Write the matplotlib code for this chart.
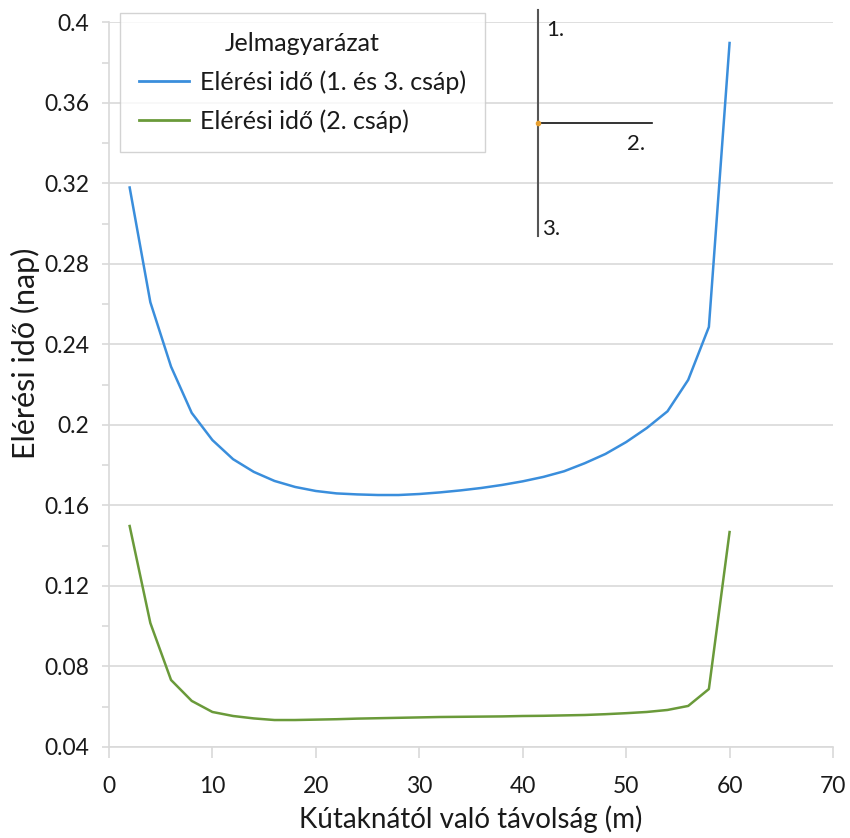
import matplotlib.pyplot as plt
from matplotlib.ticker import MultipleLocator
from matplotlib.lines import Line2D

plt.rcParams['font.family'] = ['Lato', 'DejaVu Sans']

# távolság a kutaktól (m)
tavolsag = list(range(2, 61, 2))

# elérési idő, 1. és 3. csáp (nap)
ido_1_3 = [0.318, 0.261, 0.229, 0.206, 0.1925, 0.183, 0.1767, 0.1722, 0.1692, 0.1672,
           0.166, 0.1655, 0.1652, 0.1652, 0.1657, 0.1665, 0.1675, 0.1687, 0.1702, 0.172,
           0.1742, 0.177, 0.181, 0.1856, 0.1915, 0.1985, 0.2068, 0.2224, 0.2487, 0.3898]

# elérési idő, 2. csáp (nap)
ido_2 = [0.1498, 0.1016, 0.0733, 0.0629, 0.0574, 0.0554, 0.0542, 0.0534, 0.0534, 0.0536,
         0.0538, 0.0541, 0.0543, 0.0545, 0.0547, 0.0549, 0.055, 0.0551, 0.0552, 0.0554,
         0.0555, 0.0557, 0.0559, 0.0563, 0.0568, 0.0574, 0.0584, 0.0604, 0.0688, 0.1468]

y_ticks = [0.04, 0.08, 0.12, 0.16, 0.2, 0.24, 0.28, 0.32, 0.36, 0.4]
y_labels = ['0.04', '0.08', '0.12', '0.16', '0.2', '0.24', '0.28', '0.32', '0.36', '0.4']
x_ticks = [0, 10, 20, 30, 40, 50, 60, 70]

kek = '#3a8edc'
zold = '#6a9a3a'
szurke = '#d9d9d9'
szoveg = '#1a1a1a'

fig = plt.figure(figsize=(8.5, 8.38), dpi=100)
ax = fig.add_axes([0.1282, 0.1086, 0.8518, 0.8646])

ax.plot(tavolsag, ido_1_3, color=kek, lw=1.8)
ax.plot(tavolsag, ido_2, color=zold, lw=1.8)

ax.set_xlim(0, 70)
ax.set_ylim(0.04, 0.4)
ax.set_xticks(x_ticks)
ax.set_yticks(y_ticks)
ax.set_yticklabels(y_labels)
ax.yaxis.set_minor_locator(MultipleLocator(0.02))

ax.grid(axis='y', color=szurke, lw=1.2)
ax.set_axisbelow(True)
for s in ['top', 'right']:
    ax.spines[s].set_visible(False)
for s in ['left', 'bottom']:
    ax.spines[s].set_color(szurke)
    ax.spines[s].set_linewidth(1.2)

ax.tick_params(axis='both', which='major', labelsize=16.5, color=szurke, width=1.2,
               labelcolor=szoveg)
ax.tick_params(axis='y', which='both', length=5, color=szurke, width=1.2, pad=9)
ax.tick_params(axis='x', which='major', length=8, pad=13)

ax.set_xlabel('Kútaknától való távolság (m)', fontsize=20, color=szoveg, va='top')
ax.xaxis.set_label_coords(0.5, -0.081)
ax.set_ylabel('Elérési idő (nap)', fontsize=22, color=szoveg)
ax.yaxis.set_label_coords(-0.095, 0.544)

handles = [Line2D([], [], color=kek, lw=2), Line2D([], [], color=zold, lw=2)]
leg = ax.legend(handles, ['Elérési idő (1. és 3. csáp)', 'Elérési idő (2. csáp)'],
                title='Jelmagyarázat', loc='upper left', bbox_to_anchor=(0.0152, 1.013),
                fontsize=18, title_fontsize=18, frameon=True, fancybox=False,
                handlelength=2.0, handletextpad=0.45, borderpad=0.75, labelspacing=0.62,
                borderaxespad=0)
leg.get_frame().set_edgecolor('#c8c8c8')
leg.get_frame().set_linewidth(1.0)
leg.get_title().set_color(szoveg)
for t in leg.get_texts():
    t.set_color(szoveg)

# csápok vázlata (pixelhelyek a képen)
def px(x, y):
    return x / 850, 1 - y / 838

x0, y0 = px(538, 10)
x1, y1 = px(538, 236)
xc, yc = px(538, 123)
x2, _ = px(652, 123)
fig.add_artist(Line2D([x0, x1], [y0, y1], color='#555555', lw=1.5))
fig.add_artist(Line2D([xc, x2], [yc, yc], color='#111111', lw=1.2))
fig.add_artist(Line2D([xc], [yc], marker='o', ms=3, color='#e8a030', lw=0))
fig.text(*px(546, 30), '1.', fontsize=16, va='center', color=szoveg)
fig.text(*px(627, 144), '2.', fontsize=16, va='center', color=szoveg)
fig.text(*px(542, 229), '3.', fontsize=16, va='center', color=szoveg)

fig.savefig('out.png', dpi=100)
